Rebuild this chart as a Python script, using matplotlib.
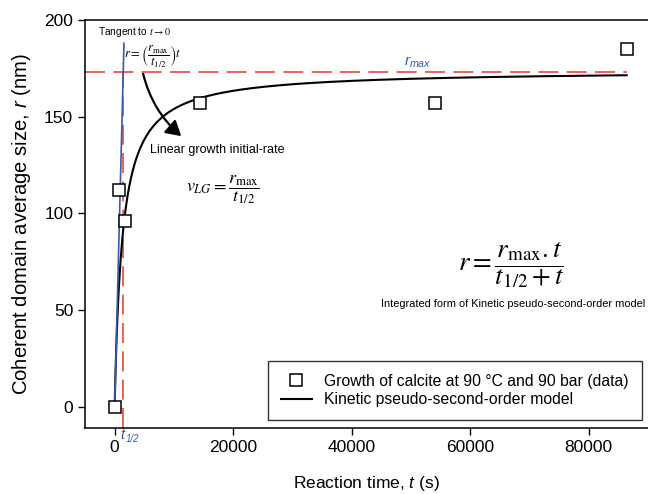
import numpy as np
import matplotlib.pyplot as plt
from matplotlib.patches import FancyArrowPatch

plt.rcParams['font.family'] = ['Liberation Sans', 'DejaVu Sans']
plt.rcParams['mathtext.fontset'] = 'custom'
plt.rcParams['mathtext.rm'] = 'Liberation Sans'
plt.rcParams['mathtext.it'] = 'Liberation Sans:italic'

# data
time_s = [0, 800, 1800, 14400, 54000, 86400]
size_nm = [0, 112, 96, 157, 157, 185]
r_max = 174
t_half = 1300
t_half_mark = 1450   # where the dashed half-time line is drawn

red = '#e8473d'
blue = '#3a5ab0'

fig = plt.figure(figsize=(6.48, 4.94), dpi=100)
ax = fig.add_axes([85/648, 1 - 428/494, 1 - 85/648, (428 - 20)/494])

t_model = np.linspace(0, 86400, 600)
r_model = r_max * t_model / (t_half + t_model)
ax.plot(t_model, r_model, color='black', lw=1.5, label='Kinetic pseudo-second-order model', zorder=3)

# asymptote and half-time
ax.plot([-5000, 86400], [173, 173], color=red, lw=1.2, ls=(0, (12, 5)), zorder=2)
ax.plot([t_half_mark, t_half_mark], [-11, 173], color=red, lw=1.2, ls=(0, (12, 5)), zorder=2)

# tangent at t -> 0
r_top = 188
ax.plot([0, r_top * t_half_mark / 173], [0, r_top], color=blue, lw=1.2, zorder=4)

ax.plot(time_s, size_nm, ls='none', marker='s', ms=9, mfc='white', mec='black', mew=1.1,
        label='Growth of calcite at 90 °C and 90 bar (data)', zorder=5)

ax.set_xlim(-5000, 90000)
ax.set_ylim(-11, 200)
ax.set_xticks([0, 20000, 40000, 60000, 80000])
ax.set_yticks([0, 50, 100, 150, 200])
ax.tick_params(direction='out', length=5, width=1, labelsize=12.5, top=False, right=False)
for s in ['left', 'bottom', 'top']:
    ax.spines[s].set_linewidth(1.1)
ax.spines['right'].set_visible(False)

ax.set_xlabel('Reaction time, $t$ (s)', fontsize=12.5, labelpad=14)
ax.set_ylabel('Coherent domain average size, $r$ (nm)', fontsize=14.6, labelpad=8)

# annotations
ax.text(-2860, 194, r'Tangent to $t\rightarrow0$', fontsize=7.3, ha='left', va='center',
        math_fontfamily='stix')
ax.text(6400, 181.5, r'$r=\left(\dfrac{r_{\max}}{t_{1/2}}\right)t$', fontsize=9,
        ha='center', va='center', math_fontfamily='stix')
arrow = FancyArrowPatch((4700, 173.6), (11600, 139), connectionstyle='arc3,rad=0.17',
                        arrowstyle='-|>,head_length=6,head_width=3.5', color='black', lw=1.6,
                        mutation_scale=1.5)
ax.add_patch(arrow)
ax.text(6050, 133, 'Linear growth initial-rate', fontsize=9, ha='left', va='center')
ax.text(18300, 112, r'$v_{LG}=\dfrac{r_{\max}}{t_{1/2}}$', fontsize=13, ha='center', va='center',
        math_fontfamily='stix')
ax.text(67000, 73, r'$r=\dfrac{r_{\max}.t}{t_{1/2}+t}$', fontsize=19.5, ha='center', va='center',
        math_fontfamily='stix')
ax.text(45000, 53, 'Integrated form of Kinetic pseudo-second-order model', fontsize=7.9,
        ha='left', va='center')
ax.text(48900, 178, r'$r_{max}$', fontsize=11, color=blue, ha='left', va='center')
# t_1/2 under the half-time line
ax.annotate('t', xy=(900, -11), xytext=(0, 0), textcoords='offset points', fontsize=10.5,
            style='italic', color=blue, ha='left', va='top')
ax.annotate('1/2', xy=(900, -11), xytext=(4, -4), textcoords='offset points', fontsize=7,
            style='italic', color=blue, ha='left', va='top')

handles, labels = ax.get_legend_handles_labels()
leg = ax.legend(handles[::-1], labels[::-1], loc='lower left',
                bbox_to_anchor=(268/648, 1 - 420/494), bbox_transform=fig.transFigure,
                fontsize=11.3, frameon=True, fancybox=False, borderaxespad=0,
                handlelength=2.0, borderpad=0.8, labelspacing=0.25)
leg.get_frame().set_edgecolor('black')
leg.get_frame().set_linewidth(1.0)

fig.savefig('out.png', dpi=100)
